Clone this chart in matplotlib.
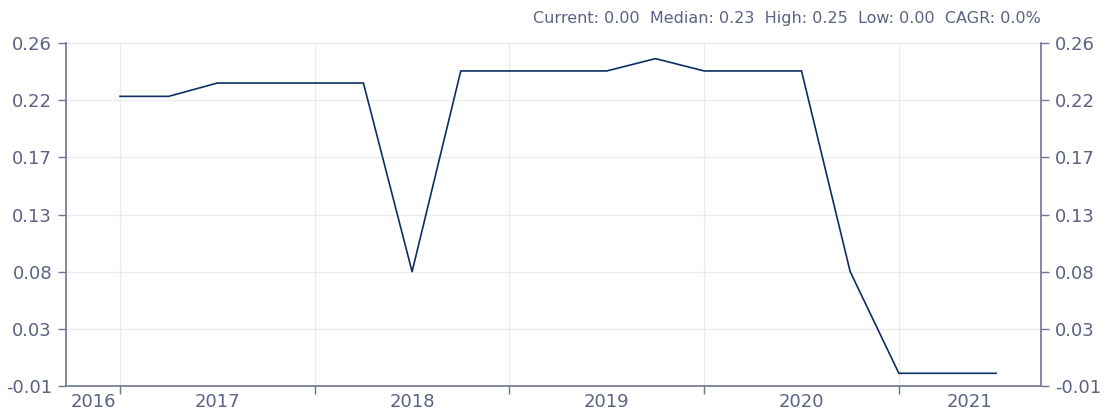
import numpy as np
import matplotlib
matplotlib.use('Agg')
import matplotlib.pyplot as plt

# quarterly values, first point at start of 2017
values = [0.218, 0.218, 0.2285, 0.2285, 0.2285, 0.2285, 0.08, 0.238, 0.238, 0.238,
          0.238, 0.2477, 0.238, 0.238, 0.238, 0.08, 0.0, 0.0, 0.0]
year_labels = ['2016', '2017', '2018', '2019', '2020', '2021']
ytick_vals = [-0.01, 0.035, 0.08, 0.125, 0.17, 0.215, 0.26]
ytick_labels = ['-0.01', '0.03', '0.08', '0.13', '0.17', '0.22', '0.26']
header = 'Current: 0.00  Median: 0.23  High: 0.25  Low: 0.00  CAGR: 0.0%'

line_col = '#0f2d63'
axis_col = '#6e7591'
text_col = '#5b6283'
grid_col = '#ebebf3'

plt.rcParams['font.family'] = ['DejaVu Sans']

fig = plt.figure(figsize=(11.05, 4.12), dpi=100)
ax = fig.add_axes([66 / 1105, 26 / 412, (1041 - 66) / 1105, (386 - 43) / 412])

x = np.arange(len(values))
ax.plot(x, values, color=line_col, lw=1.2)

xmin, xmax = -1.11, 18.92
ax.set_xlim(xmin, xmax)
ax.set_ylim(-0.01, 0.26)

# year boundaries every 4 quarters
bounds = [0, 4, 8, 12, 16]
ax.set_xticks(bounds)
ax.set_xticklabels([])
edges = [xmin] + bounds + [xmax]
mids = [(edges[i] + edges[i + 1]) / 2 for i in range(len(edges) - 1)]
ax.set_xticks(mids, minor=True)
ax.set_xticklabels(year_labels, minor=True)
ax.tick_params(axis='x', which='major', length=6, color=axis_col, width=1)
ax.tick_params(axis='x', which='minor', length=0, pad=5, labelsize=13, labelcolor=text_col)

ax.set_yticks(ytick_vals)
ax.set_yticklabels(ytick_labels)
ax.tick_params(axis='y', length=6, color=axis_col, width=1, labelsize=13,
               labelcolor=text_col, right=True, labelright=True, pad=4)

ax.grid(True, which='major', color=grid_col, lw=1)
ax.set_axisbelow(True)
for s in ['left', 'right', 'bottom']:
    ax.spines[s].set_color(axis_col)
    ax.spines[s].set_linewidth(1.2)
ax.spines['top'].set_visible(False)

fig.text(1041 / 1105, 1 - 18 / 412, header, ha='right', va='center',
         fontsize=11.5, color=text_col)

fig.savefig('out.png', dpi=100)
